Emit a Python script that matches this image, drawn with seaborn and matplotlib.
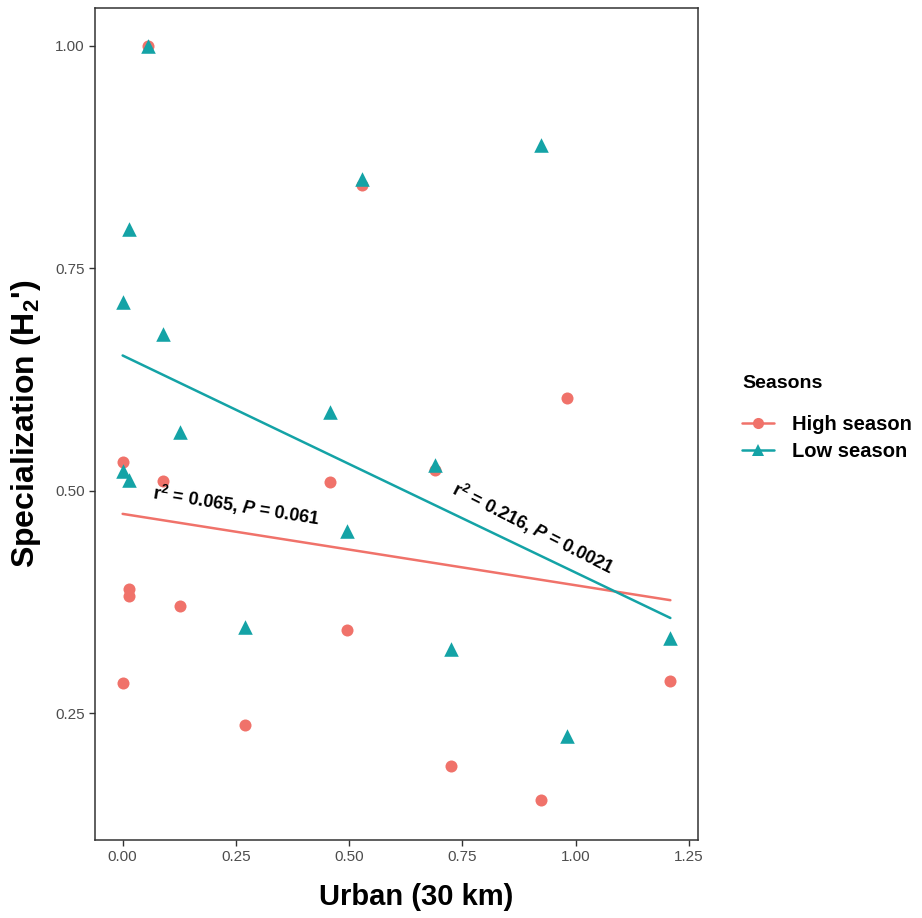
import numpy as np
import pandas as pd
import seaborn as sns
import matplotlib.pyplot as plt
from matplotlib.lines import Line2D

# ---- data ----
seasons = ["High season", "Low season"]
urban_high = [0.057, 0.923, 0.529, 0.013, 0.000, 0.088, 0.126, 0.458,
              0.689, 0.000, 0.013, 0.496, 0.271, 0.725, 0.980, 1.209]
spec_high = [1.000, 0.152, 0.844, 0.390, 0.532, 0.511, 0.370, 0.510,
             0.523, 0.284, 0.382, 0.344, 0.237, 0.191, 0.604, 0.286]
urban_low = [0.057, 0.923, 0.529, 0.013, 0.000, 0.088, 0.126, 0.458,
             0.689, 0.000, 0.013, 0.496, 0.271, 0.725, 0.980, 1.209]
spec_low = [1.000, 0.889, 0.850, 0.794, 0.712, 0.676, 0.566, 0.588,
            0.529, 0.522, 0.512, 0.455, 0.347, 0.322, 0.224, 0.334]
fit_x = [0.0, 1.209]
fit_high = [0.474, 0.377]
fit_low = [0.652, 0.357]
x_ticks = [0.00, 0.25, 0.50, 0.75, 1.00, 1.25]
y_ticks = [0.25, 0.50, 0.75, 1.00]
label_high = r"r$^{\mathbf{2}}$ = 0.065, $\mathit{P}$ = 0.061"
label_low = r"r$^{\mathbf{2}}$ = 0.216, $\mathit{P}$ = 0.0021"

colors = {"High season": "#F0726A", "Low season": "#14A3A6"}

sns.set_theme(style="white")
plt.rcParams["font.family"] = ["Liberation Sans", "DejaVu Sans"]
plt.rcParams["mathtext.fontset"] = "custom"
plt.rcParams["mathtext.rm"] = "Liberation Sans:bold"
plt.rcParams["mathtext.bf"] = "Liberation Sans:bold"
plt.rcParams["mathtext.it"] = "Liberation Sans:bold:italic"
plt.rcParams["text.color"] = "black"
plt.rcParams["axes.labelcolor"] = "black"

points = pd.DataFrame({
    "Urban": urban_high + urban_low,
    "Spec": spec_high + spec_low,
    "Season": [seasons[0]] * len(urban_high) + [seasons[1]] * len(urban_low),
})
fits = pd.DataFrame({
    "Urban": fit_x + fit_x,
    "Spec": fit_high + fit_low,
    "Season": [seasons[0]] * 2 + [seasons[1]] * 2,
})

fig = plt.figure(figsize=(9.22, 9.18), dpi=100)
ax = fig.add_axes([95 / 922, 1 - 840 / 918, (698 - 95) / 922, (840 - 8) / 918])

sub_h = points[points.Season == seasons[0]]
sns.scatterplot(data=sub_h, x="Urban", y="Spec", color=colors[seasons[0]],
                marker="o", s=75, linewidth=0, ax=ax, legend=False, zorder=3)
sub_l = points[points.Season == seasons[1]]
sns.scatterplot(data=sub_l, x="Urban", y="Spec", color=colors[seasons[1]],
                marker="^", s=110, linewidth=0, ax=ax, legend=False, zorder=4)
sns.lineplot(data=fits, x="Urban", y="Spec", hue="Season", palette=colors,
             hue_order=seasons, linewidth=1.8, ax=ax, legend=False, zorder=2)

ax.set_xlim(-0.061, 1.27)
ax.set_ylim(0.1075, 1.0425)
ax.set_xticks(x_ticks)
ax.set_xticklabels([f"{t:.2f}" for t in x_ticks])
ax.set_yticks(y_ticks)
ax.set_yticklabels([f"{t:.2f}" for t in y_ticks])
ax.tick_params(axis="both", which="both", direction="out", length=4, width=1,
               color="#333333", labelsize=11, labelcolor="#4D4D4D",
               bottom=True, left=True)
for sp in ax.spines.values():
    sp.set_color("#333333")
    sp.set_linewidth(1.1)
ax.grid(False)

ax.set_xlabel("Urban (30 km)", fontsize=21, fontweight="bold", color="black")
ax.xaxis.set_label_coords((416 - 95) / (698 - 95), -0.052)
ax.set_ylabel("Specialization (H$_{\\mathbf{2}}$')", fontsize=23,
              fontweight="bold", color="black")
ax.yaxis.set_label_coords(-(95 - 43) / (698 - 95), 0.5)

ax.text(0.251, 0.483, label_high, fontsize=13, fontweight="bold",
        color="black", rotation=-9, ha="center", va="center",
        rotation_mode="anchor", zorder=5)
ax.text(0.905, 0.458, label_low, fontsize=13, fontweight="bold",
        color="black", rotation=-27, ha="center", va="center",
        rotation_mode="anchor", zorder=5)

handles = [
    Line2D([], [], color=colors[seasons[0]], marker="o", markersize=8,
           linewidth=1.8, markeredgewidth=0),
    Line2D([], [], color=colors[seasons[1]], marker="^", markersize=9,
           linewidth=1.8, markeredgewidth=0),
]
leg = fig.legend(handles, seasons, title="Seasons\n", loc="center left",
                 bbox_to_anchor=(728 / 922, 1 - 418 / 918), frameon=False,
                 prop={"size": 14.5, "weight": "bold"}, handlelength=1.6,
                 handletextpad=0.9, labelspacing=0.4, borderpad=0.2)
leg.get_title().set_fontsize(14)
leg.get_title().set_fontweight("bold")
leg.get_title().set_linespacing(0.9)
leg._legend_box.align = "left"
for t in leg.get_texts():
    t.set_color("black")

fig.savefig("out.png", dpi=100)
